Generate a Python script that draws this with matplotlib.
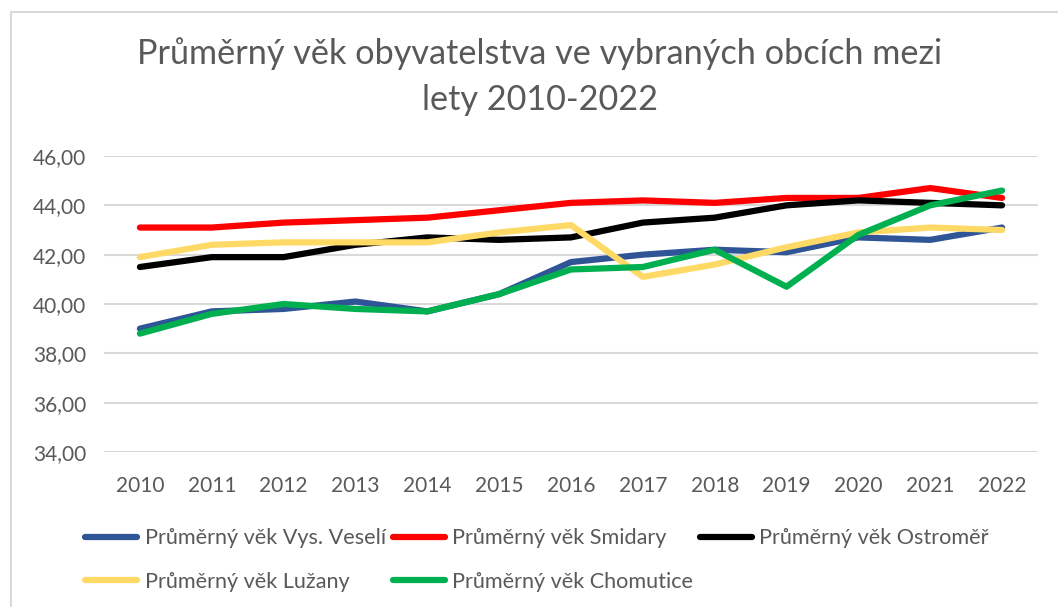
import matplotlib
matplotlib.use('agg')
import matplotlib.pyplot as plt
from matplotlib.lines import Line2D

# data
years = [2010, 2011, 2012, 2013, 2014, 2015, 2016, 2017, 2018, 2019, 2020, 2021, 2022]
vys_veseli = [39.0, 39.7, 39.8, 40.1, 39.7, 40.4, 41.7, 42.0, 42.2, 42.1, 42.7, 42.6, 43.1]
smidary = [43.1, 43.1, 43.3, 43.4, 43.5, 43.8, 44.1, 44.2, 44.1, 44.3, 44.3, 44.7, 44.3]
ostromer = [41.5, 41.9, 41.9, 42.4, 42.7, 42.6, 42.7, 43.3, 43.5, 44.0, 44.2, 44.1, 44.0]
luzany = [41.9, 42.4, 42.5, 42.5, 42.5, 42.9, 43.2, 41.1, 41.6, 42.3, 42.9, 43.1, 43.0]
chomutice = [38.8, 39.6, 40.0, 39.8, 39.7, 40.4, 41.4, 41.5, 42.2, 40.7, 42.8, 44.0, 44.6]

labels = ["Průměrný věk Vys. Veselí", "Průměrný věk Smidary", "Průměrný věk Ostroměř",
          "Průměrný věk Lužany", "Průměrný věk Chomutice"]
colors = ["#2F5597", "#FF0000", "#000000", "#FFD966", "#00B050"]
series = [vys_veseli, smidary, ostromer, luzany, chomutice]

txt = "#595959"
plt.rcParams['font.family'] = ['Lato', 'DejaVu Sans']

fig = plt.figure(figsize=(10.58, 6.07), dpi=100)
ax = fig.add_axes([104 / 1058, 1 - 452 / 607, (1038 - 104) / 1058, (452 - 156) / 607])

for vals, c, lab in zip(series, colors, labels):
    ax.plot(years, vals, color=c, lw=4.5, label=lab, solid_capstyle='round', zorder=3)

ax.set_xlim(2009.5, 2022.5)
ax.set_ylim(34, 46)
ax.set_yticks(range(34, 47, 2))
ax.yaxis.set_major_formatter(matplotlib.ticker.FuncFormatter(lambda v, p: ("%.2f" % v).replace('.', ',')))
ax.set_xticks(years)
ax.grid(axis='y', color='#D9D9D9', lw=1.5, zorder=0)
for s in ax.spines.values():
    s.set_visible(False)
ax.tick_params(length=0, labelsize=15, labelcolor=txt)
ax.tick_params(axis='x', pad=17)
ax.tick_params(axis='y', pad=13)

fig.text(0.51, 0.874, "Průměrný věk obyvatelstva ve vybraných obcích mezi\nlety 2010-2022",
         ha='center', va='center', fontsize=24.7, color=txt, linespacing=1.55)

# legend fills column by column, so reorder to read row by row
order = [0, 3, 1, 4, 2]
handles = [Line2D([0], [0], color=colors[i], lw=4.5, solid_capstyle='round') for i in order]
fig.legend(handles, [labels[i] for i in order], ncol=3, loc='center',
           bbox_to_anchor=(537 / 1058, 1 - 560 / 607),
           frameon=False, fontsize=15.6, labelcolor=txt, handlelength=2.4, handletextpad=0.35,
           columnspacing=0.3, labelspacing=1.1)

# chart border
fig.add_artist(Line2D([11 / 1058, 11 / 1058], [0, 1 - 12 / 607], color='#D9D9D9', lw=1.5))
fig.add_artist(Line2D([11 / 1058, 1], [1 - 12 / 607, 1 - 12 / 607], color='#D9D9D9', lw=1.5))

fig.savefig("out.png", dpi=100)
